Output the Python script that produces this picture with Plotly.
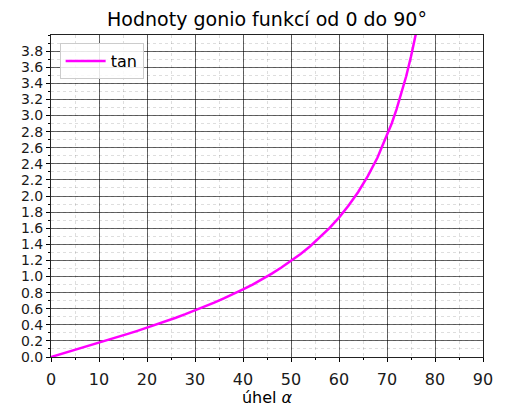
import plotly.graph_objects as go

# angle in degrees and tangent values
angles = [0, 2, 4, 6, 8, 10, 12, 14, 16, 18, 20, 22, 24, 26, 28, 30, 32, 34, 36, 38,
          40, 42, 44, 46, 48, 50, 52, 54, 56, 58, 60, 62, 64, 66, 68, 70, 71, 72, 73,
          74, 75, 76]
tan_values = [0.0, 0.035, 0.070, 0.105, 0.141, 0.176, 0.213, 0.249, 0.287, 0.325,
              0.364, 0.404, 0.445, 0.488, 0.532, 0.577, 0.625, 0.675, 0.727, 0.781,
              0.839, 0.900, 0.966, 1.036, 1.111, 1.192, 1.280, 1.376, 1.483, 1.600,
              1.732, 1.881, 2.050, 2.246, 2.475, 2.747, 2.904, 3.078, 3.271, 3.487,
              3.732, 4.011]

x_ticks = [0, 10, 20, 30, 40, 50, 60, 70, 80, 90]
y_ticks = [0.0, 0.2, 0.4, 0.6, 0.8, 1.0, 1.2, 1.4, 1.6, 1.8, 2.0, 2.2, 2.4, 2.6,
           2.8, 3.0, 3.2, 3.4, 3.6, 3.8]
y_tick_labels = [f"{v:.1f}" for v in y_ticks]

fig = go.Figure()
fig.add_trace(go.Scatter(x=angles, y=tan_values, mode="lines", name="tan",
                         line=dict(color="#ff00ff", width=2.5)))

font_family = "DejaVu Sans"
major_grid = "rgba(0,0,0,0.6)"
minor_grid = "rgba(0,0,0,0.13)"

fig.update_layout(
    width=509, height=407,
    margin=dict(l=51, r=26, t=35, b=50),
    paper_bgcolor="white", plot_bgcolor="white",
    font=dict(family=font_family, size=16, color="#1a1a1a"),
    title=dict(text="Hodnoty gonio funkcí od 0 do 90°", x=0.5, xref="paper",
               xanchor="center", y=0.935, yanchor="bottom", yref="container",
               font=dict(size=19, color="#000000")),
    showlegend=True,
    legend=dict(x=0.02, y=0.975, xanchor="left", yanchor="top",
                bgcolor="rgba(255,255,255,0.85)", bordercolor="#cccccc",
                borderwidth=1, font=dict(size=16, color="#000000"),
                itemwidth=40),
    xaxis=dict(range=[0, 90], tickvals=x_ticks, ticks="outside", ticklen=4,
               tickcolor="#000", showline=True, mirror=True, linecolor="#222",
               linewidth=1, showgrid=True, gridcolor=major_grid, gridwidth=1,
               zeroline=False, tickfont=dict(size=16), ticklabelstandoff=4,
               automargin=False,
               title=dict(text="úhel <i>α</i>", standoff=6, font=dict(size=16, color="#000")),
               minor=dict(dtick=5, tick0=0, ticks="outside", ticklen=2,
                          tickcolor="#000", showgrid=True, gridcolor=minor_grid,
                          griddash="dot")),
    yaxis=dict(range=[0, 4.0], tickvals=y_ticks, ticktext=y_tick_labels,
               ticks="outside", ticklen=4, tickcolor="#000", showline=True,
               mirror=True, linecolor="#222", linewidth=1, showgrid=True,
               gridcolor=major_grid, gridwidth=1, zeroline=False,
               tickfont=dict(size=14), automargin=False,
               minor=dict(dtick=0.1, tick0=0, ticks="outside", ticklen=2,
                          tickcolor="#000", showgrid=True, gridcolor=minor_grid,
                          griddash="dot")),
)

fig.write_html("out.html")
